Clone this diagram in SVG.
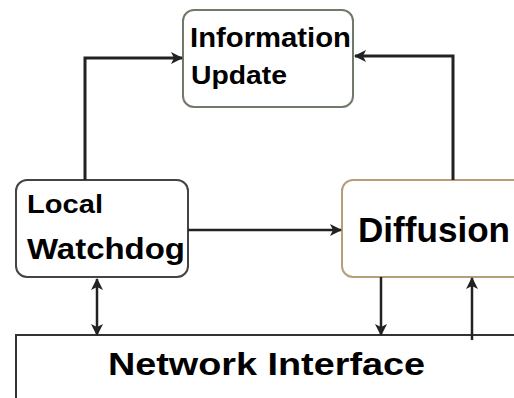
<svg xmlns="http://www.w3.org/2000/svg" width="514" height="398" viewBox="0 0 514 398">
<defs>
<style>
.box{fill:#fff;stroke-width:2}
.t{font-family:"Liberation Sans",Arial,sans-serif;font-weight:bold;fill:#000}
.c{fill:none;stroke:#222}
</style>
<marker id="ah" viewBox="0 0 12 12" refX="11" refY="6" markerWidth="12" markerHeight="12" markerUnits="userSpaceOnUse" orient="auto-start-reverse">
<path d="M0,0 L12,6 L0,12 L3,6 z" fill="#222"/>
</marker>
</defs>
<rect width="514" height="398" fill="#fff"/>
<g id="network-interface">
<path d="M16,398 V335 H514" fill="none" stroke="#333" stroke-width="2"/>
<text class="t" x="108" y="375" font-size="31" textLength="317" lengthAdjust="spacingAndGlyphs">Network Interface</text>
</g>
<g id="information-update">
<rect class="box" x="183" y="10" width="170" height="97" rx="11" stroke="#6f7a68"/>
<text class="t" x="190" y="47" font-size="27" textLength="161" lengthAdjust="spacingAndGlyphs">Information</text>
<text class="t" x="191" y="84" font-size="26" textLength="96" lengthAdjust="spacingAndGlyphs">Update</text>
</g>
<g id="local-watchdog">
<rect class="box" x="16" y="180" width="172" height="97" rx="11" stroke="#444"/>
<text class="t" x="27" y="213" font-size="26" textLength="76" lengthAdjust="spacingAndGlyphs">Local</text>
<text class="t" x="27" y="259" font-size="30" textLength="158" lengthAdjust="spacingAndGlyphs">Watchdog</text>
</g>
<g id="diffusion">
<rect class="box" x="342" y="180" width="190" height="97" rx="11" stroke="#b49f78"/>
<text class="t" x="358" y="242" font-size="35" textLength="152" lengthAdjust="spacingAndGlyphs">Diffusion</text>
</g>
<g id="connectors">
<path class="c" d="M85,180 V58 H182" stroke-width="3" marker-end="url(#ah)"/>
<path class="c" d="M453,180 V56 H355" stroke-width="3" marker-end="url(#ah)"/>
<path class="c" d="M188,230 H341" stroke-width="2.5" marker-end="url(#ah)"/>
<path class="c" d="M97,279 V335" stroke-width="2.5" marker-start="url(#ah)" marker-end="url(#ah)"/>
<path class="c" d="M381,277 V335" stroke-width="2.5" marker-end="url(#ah)"/>
<path class="c" d="M472,340 V278" stroke-width="2.5" marker-end="url(#ah)"/>
</g>
</svg>
